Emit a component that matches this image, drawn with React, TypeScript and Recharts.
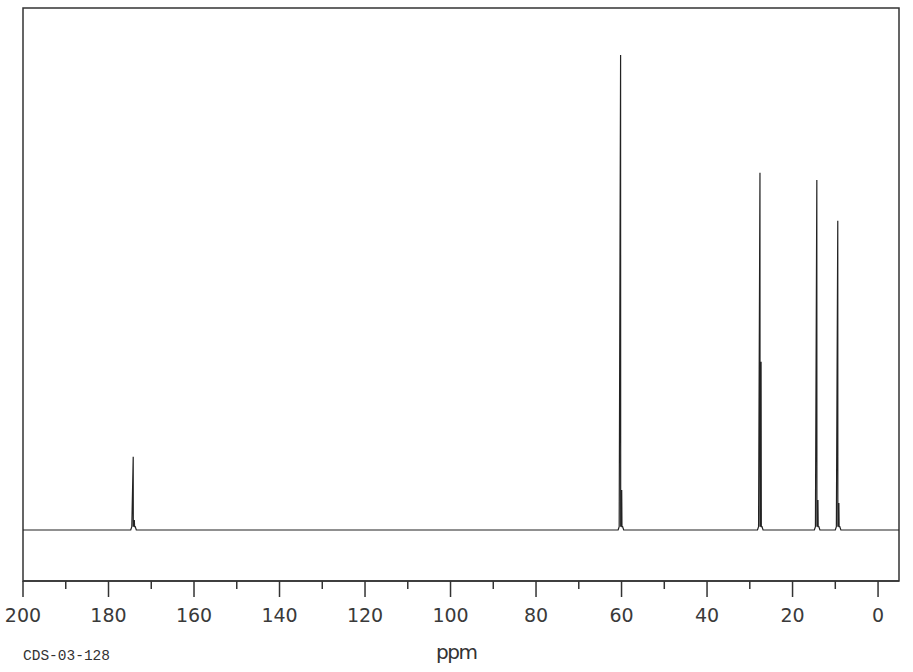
import React from 'react';
import { ComposedChart, Line, XAxis, YAxis, ReferenceArea } from 'recharts';

// Peak positions (ppm), main intensities, inner (shoulder) intensities
const peakPpm = [174.2, 60.2, 27.6, 14.3, 9.4];
const peakHeight = [15.4, 100, 75.2, 73.7, 65.1];
const peakInner = [2.1, 8.4, 35.4, 6.3, 5.7];
const xTicks = [200, 190, 180, 170, 160, 150, 140, 130, 120, 110, 100, 90, 80, 70, 60, 50, 40, 30, 20, 10, 0];
const X_MIN = -4.9;
const X_MAX = 200;
const Y_MIN = -10.74;
const Y_MAX = 109.9;

type Pt = { ppm: number; v: number };
const buildSpectrum = (): Pt[] => {
  const pts: Pt[] = [{ ppm: X_MAX, v: 0 }];
  peakPpm.forEach((c, i) => {
    pts.push({ ppm: c + 0.6, v: 0 });
    pts.push({ ppm: c + 0.35, v: 0.7 });
    pts.push({ ppm: c + 0.02, v: peakHeight[i] });
    pts.push({ ppm: c, v: 0.7 });
    pts.push({ ppm: c - 0.08, v: peakInner[i] });
    pts.push({ ppm: c - 0.16, v: 0.7 });
    pts.push({ ppm: c - 0.24, v: peakInner[i] });
    pts.push({ ppm: c - 0.3, v: 0.7 });
    pts.push({ ppm: c - 0.45, v: 0.7 });
    pts.push({ ppm: c - 0.7, v: 0 });
  });
  pts.push({ ppm: X_MIN, v: 0 });
  return pts;
};
const spectrum = buildSpectrum();

const Tick = (props: any) => {
  const { x, y, payload } = props;
  const major = payload.value % 20 === 0;
  return (
    <g>
      <line x1={x} y1={y} x2={x} y2={y + (major ? 16 : 8)} stroke="#333" strokeWidth={1.5} />
      {major && (
        <text
          x={x}
          y={y + 41}
          textAnchor="middle"
          fontFamily="DejaVu Sans"
          fontSize={19}
          fill="#3a3a3a"
        >
          {payload.value}
        </text>
      )}
    </g>
  );
};

export default function App() {
  return (
    <div style={{ position: 'absolute', left: 0, top: 0, width: 913, height: 672, background: '#fff' }}>
      <ComposedChart
        width={913}
        height={672}
        data={spectrum}
        margin={{ top: 8, right: 14, left: 23, bottom: 0 }}
      >
        <XAxis
          dataKey="ppm"
          type="number"
          domain={[X_MIN, X_MAX]}
          allowDataOverflow
          reversed
          ticks={xTicks}
          interval={0}
          tickSize={0}
          tickMargin={0}
          tickLine={false}
          axisLine={{ stroke: '#333', strokeWidth: 1.5 }}
          tick={<Tick />}
          height={91}
        />
        <YAxis hide type="number" domain={[Y_MIN, Y_MAX]} allowDataOverflow width={0} />
        <ReferenceArea
          x1={X_MIN}
          x2={X_MAX}
          y1={Y_MIN}
          y2={Y_MAX}
          fill="none"
          fillOpacity={0}
          stroke="#333"
          strokeWidth={1.5}
          ifOverflow="visible"
        />
        <Line
          type="linear"
          dataKey="v"
          stroke="#222"
          strokeWidth={1.2}
          dot={false}
          isAnimationActive={false}
        />
      </ComposedChart>
      <div
        style={{
          position: 'absolute',
          left: 436,
          top: 640,
          fontFamily: 'DejaVu Sans',
          fontSize: 20,
          letterSpacing: -1.5,
          color: '#333',
          lineHeight: '24px',
        }}
      >
        ppm
      </div>
      <div
        style={{
          position: 'absolute',
          left: 23,
          top: 648,
          fontFamily: 'Liberation Mono',
          fontSize: 14.5,
          color: '#333',
          lineHeight: '16px',
        }}
      >
        CDS-03-128
      </div>
    </div>
  );
}
